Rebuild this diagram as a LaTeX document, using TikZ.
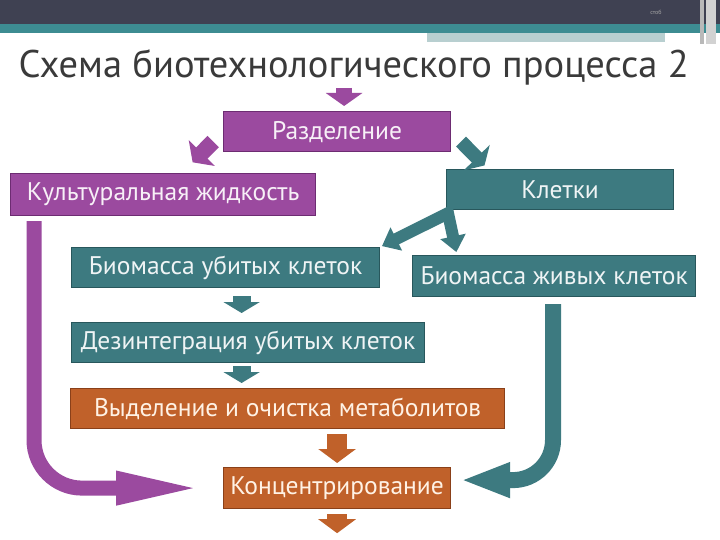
\documentclass[tikz,border=0pt]{standalone}
\usepackage{fontspec}
\setmainfont{PT Sans}
\usepackage{xcolor}
\usetikzlibrary{arrows.meta, positioning}
\definecolor{purp}{HTML}{9B4A9F}
\definecolor{purpline}{HTML}{6D2C72}
\definecolor{tealc}{HTML}{3D7A80}
\definecolor{tealline}{HTML}{28575C}
\definecolor{orng}{HTML}{C0612A}
\definecolor{orngline}{HTML}{8A4019}
\definecolor{headdark}{HTML}{3F4152}
\definecolor{headteal}{HTML}{3D8C92}
\definecolor{headlight}{HTML}{B8CFD0}
\definecolor{titlegray}{HTML}{3A3A3A}

\begin{document}
\begin{tikzpicture}[x=1pt, y=-1pt,
  box/.style={line width=1.2pt, inner sep=0pt, anchor=north west, align=center,
              font=\fontsize{25.5}{28}\selectfont},
  pbox/.style={box, draw=purpline, fill=purp, text=purp!8},
  tbox/.style={box, draw=tealline, fill=tealc, text=tealc!8},
  obox/.style={box, draw=orngline, fill=orng, text=orange!10},
  parr/.style={draw=purp, line width=16pt, -{Triangle[width=36pt, length=13pt]}},
  tarr/.style={draw=tealc, line width=18pt, -{Triangle[width=36pt, length=11pt]}},
  tfork/.style={draw=tealc, line width=12pt, line join=miter,
                {Triangle[width=25pt, length=16pt]}-{Triangle[width=25pt, length=16pt]}},
  oarr/.style={draw=orng, line width=20pt, -{Triangle[width=37pt, length=14pt]}},
  pcurve/.style={draw=purp, line width=15pt, rounded corners=48pt,
                 -{Triangle[width=30pt, length=88pt]}},
  tcurve/.style={draw=tealc, line width=16pt, rounded corners=40pt,
                 -{Triangle[width=32pt, length=50pt]}}
]
\fill[white] (0,0) rectangle (720,540);
\useasboundingbox (0,0) rectangle (720,540);
\fill[headdark] (0,0) rectangle (720,24);
\fill[headteal] (0,24) rectangle (720,33);
\fill[headlight] (427,33) rectangle (665,42);
\fill[gray!55] (700,0) rectangle (704,44);
\fill[gray!35] (706,0) rectangle (716,44);
\node[font=\fontsize{6}{7}\selectfont, text=gray!70] (num) at (656,12) {стоб};

\node[font=\fontsize{38.5}{42}\selectfont, text=titlegray, anchor=base west] (title) at (15,78)
  {Схема биотехнологического процесса 2};

\node[pbox, minimum width=227pt, minimum height=40pt] (razd) at (223,111) {Разделение};
\node[pbox, minimum width=305pt, minimum height=42pt] (kult) at (10,173) {Культуральная жидкость};
\node[tbox, minimum width=227pt, minimum height=40pt] (kl)   at (446,169) {Клетки};
\node[tbox, minimum width=308pt, minimum height=40pt] (ubit) at (71,247) {Биомасса убитых клеток};
\node[tbox, minimum width=283pt, minimum height=41pt] (zhiv) at (412,255) {Биомасса живых клеток};
\node[tbox, minimum width=353pt, minimum height=40pt] (dez)  at (71,322) {Дезинтеграция убитых клеток};
\node[obox, minimum width=434pt, minimum height=40pt] (vyd)  at (70,388) {Выделение и очистка метаболитов};
\node[obox, minimum width=227pt, minimum height=41pt] (conc) at (223,467) {Концентрирование};

\draw[parr, shorten >=5pt] ([xshift=7pt, yshift=23pt]razd.north) -- ([xshift=7pt]razd.north);
\draw[parr, shorten <=14pt, shorten >=15pt] (razd.west) -- ([xshift=19pt]kult.north);
\draw[tarr, line width=14pt, shorten <=14pt, shorten >=5pt] (razd.east) -- ([xshift=42pt]kl.north west);
\draw[tfork, shorten <=2pt, shorten >=3pt] (ubit.north east) -- ([xshift=2pt, yshift=-3pt]kl.south west)
  -- ([xshift=45pt]zhiv.north west);
\draw[tarr, shorten <=8pt, shorten >=9pt] ([xshift=16pt]ubit.south) -- ([xshift=16pt]ubit.south |- dez.north);
\draw[tarr, shorten <=3pt, shorten >=5pt] ([xshift=16pt]ubit.south |- dez.south) -- ([xshift=16pt]ubit.south |- vyd.north);
\draw[oarr, shorten <=5pt, shorten >=4pt] (conc.north |- vyd.south) -- (conc.north);
\draw[oarr, shorten <=5pt] (conc.south) -- ([yshift=-24pt]conc.south);
\draw[pcurve, shorten <=5pt, shorten >=19pt] ([xshift=24pt]kult.south west) |- (conc.west);
\draw[tcurve, shorten <=7pt, shorten >=9pt] ([xshift=141pt]zhiv.south west) |- ([yshift=8pt]conc.east);
\end{tikzpicture}
\end{document}
